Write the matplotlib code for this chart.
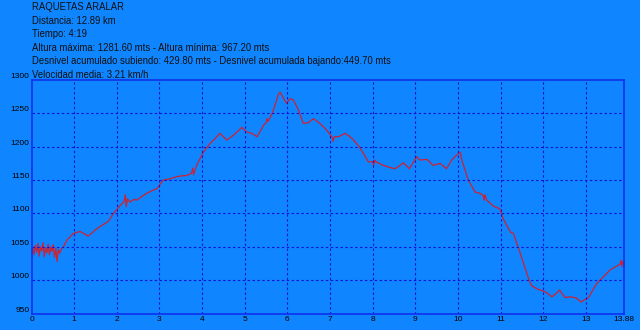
import matplotlib
matplotlib.use("Agg")
import matplotlib.pyplot as plt

# distance (km) and altitude (m)
dist = [0, 0.03, 0.06, 0.09, 0.12, 0.15, 0.18, 0.21, 0.24, 0.27, 0.30, 0.33,
        0.36, 0.39, 0.42, 0.45, 0.48, 0.51, 0.54, 0.57, 0.60, 0.63, 0.66, 0.70,
        0.75, 0.83, 0.98, 1.14, 1.33, 1.53, 1.72, 1.80, 1.92, 2.08, 2.17, 2.20, 2.22,
        2.25, 2.31, 2.40, 2.47, 2.60, 2.70, 2.82, 2.94, 3.09, 3.25, 3.40, 3.48, 3.64, 3.75, 3.78, 3.80,
        3.87, 4.03, 4.19, 4.30, 4.42, 4.58, 4.73, 4.85, 4.93, 5.05, 5.16, 5.29, 5.44, 5.50,
        5.52, 5.55, 5.65, 5.75, 5.79, 5.83, 5.87, 5.98, 6.06, 6.14, 6.26, 6.37,
        6.49, 6.61, 6.76, 6.92, 7.05, 7.07, 7.10, 7.20, 7.35, 7.45, 7.55, 7.66, 7.78,
        7.90, 8.00, 8.02, 8.05, 8.09, 8.25, 8.40, 8.52, 8.62, 8.72, 8.86, 9.03, 9.11, 9.27,
        9.42, 9.58, 9.73, 9.85, 10.01, 10.05, 10.09, 10.24, 10.40, 10.52, 10.59,
        10.61, 10.63, 10.67, 10.83, 10.98, 11.06, 11.23, 11.30, 11.45, 11.65,
        11.72, 11.85, 12.06, 12.20, 12.30, 12.38, 12.51, 12.65, 12.78, 12.88, 13.06, 13.25,
        13.41, 13.56, 13.72, 13.80, 13.82, 13.84, 13.86, 13.88]
alt = [1040, 1048, 1038, 1052, 1042, 1055, 1036, 1050, 1044, 1056, 1035, 1049,
       1041, 1054, 1038, 1050, 1043, 1053, 1034, 1048, 1028, 1046, 1040, 1047,
       1050, 1060, 1070, 1073, 1066, 1077, 1085, 1088, 1100, 1112, 1118, 1128, 1110,
       1122, 1117, 1121, 1120, 1126, 1130, 1134, 1137, 1150, 1152, 1155, 1156, 1157, 1160, 1168, 1158,
       1172, 1192, 1205, 1212, 1220, 1210, 1217, 1224, 1229, 1222, 1220, 1215, 1232, 1236,
       1242, 1238, 1251, 1270, 1279, 1281.6, 1277, 1265, 1272, 1270, 1255, 1235,
       1236, 1242, 1235, 1225, 1214, 1208, 1215, 1215, 1220, 1216, 1210, 1202, 1190,
       1177, 1178, 1172, 1180, 1177, 1172, 1169, 1167, 1171, 1176, 1167, 1185, 1180, 1181,
       1172, 1175, 1167, 1180, 1190, 1192, 1180, 1150, 1132, 1130, 1127,
       1120, 1128, 1120, 1111, 1107, 1092, 1072, 1070, 1042, 1003,
       992, 987, 982, 975, 980, 985, 974, 975, 973, 967.2, 974, 995,
       1005, 1015, 1021, 1024, 1030, 1020, 1028, 1025]

xticks = list(range(0, 14)) + [13.88]
xlabels = [str(i) for i in range(0, 14)] + ["13.88"]
yticks = [950, 1000, 1050, 1100, 1150, 1200, 1250, 1300]

header = ["RAQUETAS ARALAR",
          "Distancia: 12.89 km",
          "Tiempo: 4:19",
          "Altura máxima: 1281.60 mts - Altura mínima: 967.20 mts",
          "Desnivel acumulado subiendo: 429.80 mts - Desnivel acumulada bajando:449.70 mts",
          "Velocidad media: 3.21 km/h"]

bg = "#0F85FF"
plt.rcParams['font.family'] = ['Liberation Sans', 'DejaVu Sans']

fig = plt.figure(figsize=(6.4, 3.3), dpi=100, facecolor=bg)
ax = fig.add_axes([31.5 / 640, 1 - 313.5 / 330, 592 / 640, 233.5 / 330])
ax.set_facecolor(bg)

ax.plot(dist, alt, color="#CC2232", linewidth=0.9)

ax.set_xlim(0, 13.88)
ax.set_ylim(950, 1300)
ax.set_xticks(xticks)
ax.set_xticklabels(xlabels)
ax.set_yticks(yticks)
ax.tick_params(length=0, labelsize=6, colors="black", pad=1.5)
for lab in ax.get_yticklabels():
    lab.set_va("bottom")

for s in ax.spines.values():
    s.set_color("#1030F0")
    s.set_linewidth(1.2)

for xv in range(1, 14):
    ax.axvline(xv, color="#1414D4", linestyle=(0, (2.2, 2.2)), linewidth=0.8)
for yv in yticks[1:-1]:
    ax.axhline(yv, color="#1414D4", linestyle=(0, (2.2, 2.2)), linewidth=0.8)

for i, t in enumerate(header):
    fig.text(32 / 640, 1 - (7 + i * 13.6) / 330, t, fontsize=6.85,
             color="#101010", va="center", ha="left")

fig.savefig("out.png", dpi=100, facecolor=bg)
